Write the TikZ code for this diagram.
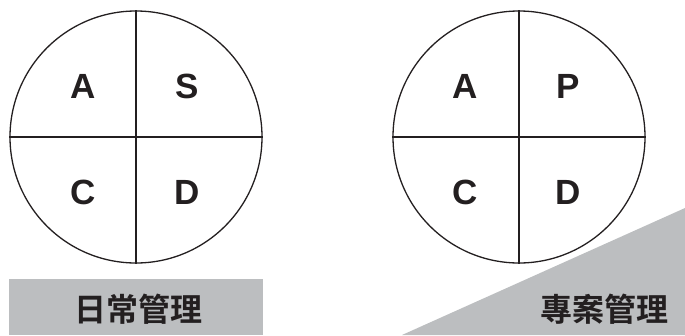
\documentclass[tikz,border=0pt]{standalone}
\usepackage{fontspec}
\setmainfont{Liberation Sans}
\newfontfamily\cjk{Noto Sans CJK TC}[BoldFont={Noto Sans CJK TC Bold}]
\usepackage{tikz}
\usetikzlibrary{calc,positioning}
\definecolor{cInk}{RGB}{35,31,32}
\definecolor{cBand}{RGB}{188,190,192}

\begin{document}
\begin{tikzpicture}[x=1pt,y=-1pt,
    wheel/.style={circle,draw=cInk,line width=1.3pt,minimum size=252pt,inner sep=0pt},
    quad/.style={font=\fontsize{35}{35}\selectfont\bfseries,text=cInk},
    tag/.style={font=\cjk\fontsize{32}{32}\selectfont\bfseries,text=cInk}]
  \useasboundingbox (0,0) rectangle (685,335);
  % bands under the circles
  \fill[cBand] (9,279) rectangle (263,335);
  \fill[cBand] (402,335) -- (685,208) -- (685,335) -- cycle;
  % daily wheel
  \node[wheel] (dw) at (136,137) {};
  \draw[cInk,line width=1.3pt] (dw.north) -- (dw.south) (dw.west) -- (dw.east);
  \node[quad] (dA) at (83,86) {A};
  \node[quad] (dS) at (187,86) {S};
  \node[quad] (dC) at (83,192) {C};
  \node[quad] (dD) at (187,192) {D};
  % project wheel
  \node[wheel] (pw) at (519,137) {};
  \draw[cInk,line width=1.3pt] (pw.north) -- (pw.south) (pw.west) -- (pw.east);
  \node[quad] (pA) at (465,86) {A};
  \node[quad] (pP) at (568,86) {P};
  \node[quad] (pC) at (465,192) {C};
  \node[quad] (pD) at (568,192) {D};
  \node[tag] (dT) at (138,309) {日常管理};
  \node[tag] (pT) at (604,309) {專案管理};
\end{tikzpicture}
\end{document}
